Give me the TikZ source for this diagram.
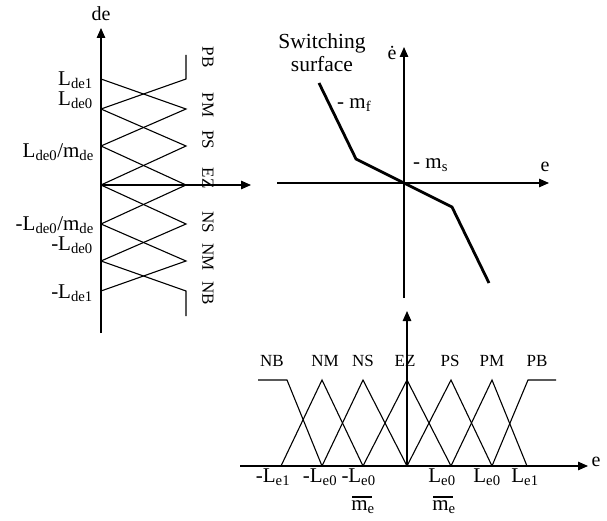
\documentclass[tikz,border=0pt]{standalone}
\usepackage{fontspec}
\setmainfont{Liberation Serif}
\usetikzlibrary{arrows.meta}
\begin{document}
\begin{tikzpicture}[x=1pt,y=-1pt,
  mf/.style={line width=1.1pt, line join=miter},
  axis/.style={line width=1.2pt,-{Triangle[length=10pt,width=8.5pt]}},
  surf/.style={line width=2.8pt, line join=miter},
  big/.style={font=\fontsize{21}{23}\selectfont, inner sep=0pt},
  small/.style={font=\fontsize{17}{19}\selectfont, inner sep=0pt},
  axl/.style={font=\fontsize{20}{22}\selectfont, inner sep=0pt},
  sw/.style={font=\fontsize{21.5}{23}\selectfont, inner sep=0pt},
]
\useasboundingbox (0,0) rectangle (607,521);

% ---------------- left panel (de) ----------------
\coordinate (Lbot) at (101,333);
\coordinate (Ltop) at (101,28);
\coordinate (LO) at (101,185);
\coordinate (Lright) at (251,185);
\draw[axis] (Lbot) -- (Ltop);
\draw[axis] (LO) -- (Lright);
\node[axl] (de) at (101,14) {de};

\draw[mf] (101,109) -- (186,79) -- (186,55);
\draw[mf] (101,79) -- (186,109) -- (101,146);
\draw[mf] (101,109) -- (186,146) -- (101,185);
\draw[mf] (101,146) -- (186,185) -- (101,224);
\draw[mf] (101,185) -- (186,224) -- (101,261);
\draw[mf] (101,224) -- (186,261) -- (101,291);
\draw[mf] (101,261) -- (186,291) -- (186,316);

\node[small,rotate=-90] (lPB) at (208,57) {PB};
\node[small,rotate=-90] (lPM) at (208,105) {PM};
\node[small,rotate=-90] (lPS) at (208,140) {PS};
\node[small,rotate=-90] (lEZ) at (208,178) {EZ};
\node[small,rotate=-90] (lNS) at (208,222) {NS};
\node[small,rotate=-90] (lNM) at (208,257) {NM};
\node[small,rotate=-90] (lNB) at (208,293) {NB};

\node[big,anchor=east] (a1) at (93,80) {L\textsubscript{de1}};
\node[big,anchor=east] (a2) at (93,100) {L\textsubscript{de0}};
\node[big,anchor=east] (a3) at (94,152) {L\textsubscript{de0}/m\textsubscript{de}};
\node[big,anchor=east] (a4) at (94,225) {-L\textsubscript{de0}/m\textsubscript{de}};
\node[big,anchor=east] (a5) at (93,245) {-L\textsubscript{de0}};
\node[big,anchor=east] (a6) at (93,293) {-L\textsubscript{de1}};

% ---------------- top right panel (phase plane) ----------------
\coordinate (Pbot) at (404,298);
\coordinate (Ptop) at (404,47);
\coordinate (Pleft) at (277,183);
\coordinate (Pright) at (549,183);
\coordinate (PO) at (404,183);
\draw[axis] (Pbot) -- (Ptop);
\draw[axis] (Pleft) -- (Pright);
\coordinate (s1) at (319,83);
\coordinate (s2) at (356,159);
\coordinate (s3) at (452,207);
\coordinate (s4) at (489,283);
\draw[surf] (s1) -- (s2) -- (PO) -- (s3) -- (s4);

\node[sw] (sw1) at (322,43) {Switching};
\node[sw,anchor=base] (sw2) at (322,72) {surface};
\node[axl] (edot) at (392,53) {ė};
\node[axl] (pe) at (545,167) {e};
\node[big,anchor=west] (mf) at (337,105) {- m\textsubscript{f}};
\node[big,anchor=west] (ms) at (413,165) {- m\textsubscript{s}};

% ---------------- bottom panel (e) ----------------
\coordinate (Bbot) at (407,466);
\coordinate (Btop) at (407,311);
\coordinate (Bleft) at (240,466);
\coordinate (Bright) at (588,466);
\draw[axis] (Bbot) -- (Btop);
\draw[axis] (Bleft) -- (Bright);
\node[axl] (be) at (596,462) {e};

\draw[mf] (258,380) -- (287,380) -- (322,466);
\draw[mf] (281,466) -- (322,380) -- (363,466);
\draw[mf] (322,466) -- (363,380) -- (407,466);
\draw[mf] (363,466) -- (407,380) -- (451,466);
\draw[mf] (407,466) -- (451,380) -- (492,466);
\draw[mf] (451,466) -- (492,380) -- (527,466);
\draw[mf] (492,466) -- (528,380) -- (556,380);

\node[small] (bNB) at (272,361) {NB};
\node[small] (bNM) at (325,361) {NM};
\node[small] (bNS) at (363,361) {NS};
\node[small] (bEZ) at (405,361) {EZ};
\node[small] (bPS) at (450,361) {PS};
\node[small] (bPM) at (492,361) {PM};
\node[small] (bPB) at (537,361) {PB};

\node[big,anchor=base] (b1) at (273,482) {-L\textsubscript{e1}};
\node[big,anchor=base] (b2) at (320,482) {-L\textsubscript{e0}};
\node[big,anchor=base] (b3m) at (345,482) {-};
\node[big,anchor=base] (b3) at (362,482) {L\textsubscript{e0}};
\coordinate (b3l) at (352,497);
\coordinate (b3r) at (372,497);
\draw[line width=1.1pt] (b3l) -- (b3r);
\node[big,anchor=base] (b3d) at (363,510) {m\textsubscript{e}};
\node[big,anchor=base] (b4) at (442,482) {L\textsubscript{e0}};
\coordinate (b4l) at (433,497);
\coordinate (b4r) at (453,497);
\draw[line width=1.1pt] (b4l) -- (b4r);
\node[big,anchor=base] (b4d) at (444,510) {m\textsubscript{e}};
\node[big,anchor=base] (b5) at (487,482) {L\textsubscript{e0}};
\node[big,anchor=base] (b6) at (525,482) {L\textsubscript{e1}};
\end{tikzpicture}
\end{document}
